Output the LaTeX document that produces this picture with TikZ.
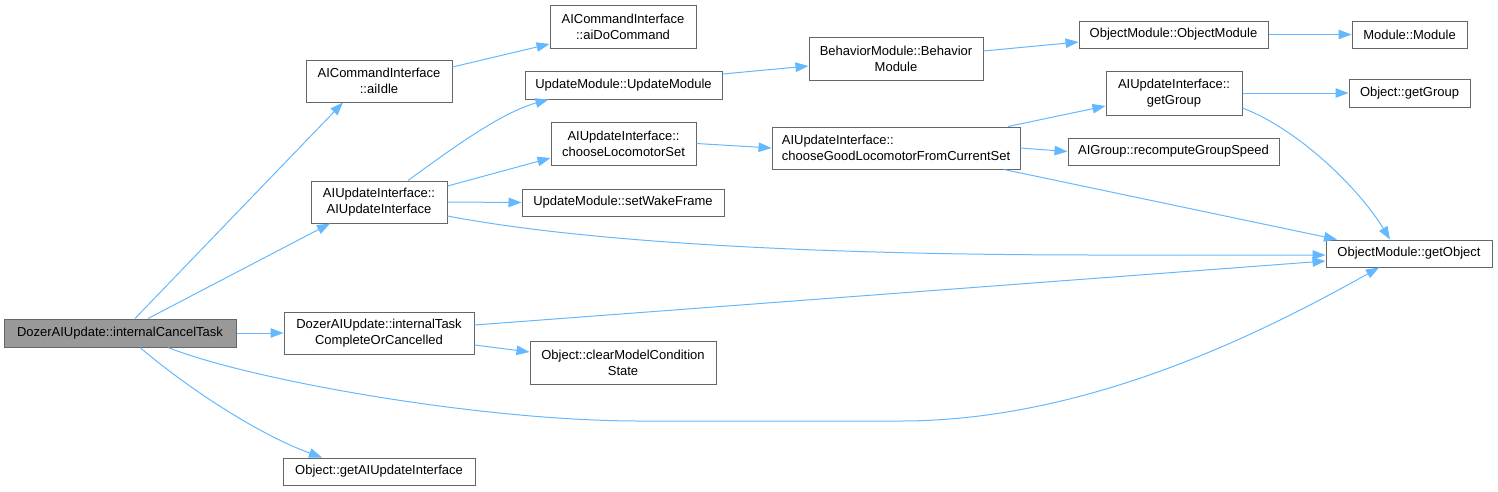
\documentclass[tikz,border=0pt]{standalone}
\usepackage{fontspec}
\setmainfont{Liberation Sans}
\usetikzlibrary{arrows.meta}
\definecolor{edgeblue}{HTML}{63B8FF}
\definecolor{nodeborder}{HTML}{666666}
\definecolor{mainfill}{HTML}{999999}
\tikzset{
  box/.style={draw=nodeborder, line width=1pt, fill=white, inner sep=0pt, align=center,
    font=\fontsize{13}{16}\selectfont},
  mainbox/.style={box, fill=mainfill},
  edge/.style={draw=edgeblue, line width=1pt, -{Triangle[length=13pt,width=9.5pt]}},
}
\begin{document}
\begin{tikzpicture}[x=1pt,y=-1pt]
\useasboundingbox (0,0) rectangle (1498,491);
% nodes
\node[mainbox, minimum width=232, minimum height=28] (main) at (120,333) {DozerAIUpdate::internalCancelTask};
\node[box, minimum width=146, minimum height=42] (aiIdle) at (379,81) {AICommandInterface\\::aiIdle};
\node[box, minimum width=136, minimum height=42] (aiUI) at (379,202) {AIUpdateInterface::\\AIUpdateInterface};
\node[box, minimum width=190, minimum height=42] (intTask) at (379,333) {DozerAIUpdate::internalTask\\CompleteOrCancelled};
\node[box, minimum width=192, minimum height=27] (getAIUI) at (379,471.5) {Object::getAIUpdateInterface};
\node[box, minimum width=146, minimum height=43] (aiDo) at (623,26.5) {AICommandInterface\\::aiDoCommand};
\node[box, minimum width=197, minimum height=28] (updMod) at (623.5,85) {UpdateModule::UpdateModule};
\node[box, minimum width=145, minimum height=43] (chooseLoco) at (623.5,143.5) {AIUpdateInterface::\\chooseLocomotorSet};
\node[box, minimum width=202, minimum height=27] (setWake) at (623,202.5) {UpdateModule::setWakeFrame};
\node[box, minimum width=186, minimum height=43] (clearModel) at (623,362.5) {Object::clearModelCondition\\State};
\node[box, minimum width=174, minimum height=43] (behav) at (896,58.5) {BehaviorModule::Behavior\\Module};
\node[box, minimum width=248, minimum height=42, align=left] (chooseGood) at (896,148) {AIUpdateInterface::\\chooseGoodLocomotorFromCurrentSet};
\node[box, minimum width=189, minimum height=27] (objMod) at (1173.5,34.5) {ObjectModule::ObjectModule};
\node[box, minimum width=136, minimum height=44] (getGroupAI) at (1174,93) {AIUpdateInterface::\\getGroup};
\node[box, minimum width=211, minimum height=27] (aiGroup) at (1173.5,151.5) {AIGroup::recomputeGroupSpeed};
\node[box, minimum width=115, minimum height=27] (module) at (1409.5,34.5) {Module::Module};
\node[box, minimum width=121, minimum height=28] (objGetGroup) at (1409.5,93) {Object::getGroup};
\node[box, minimum width=166, minimum height=27] (getObject) at (1409,253.5) {ObjectModule::getObject};
% edges
\draw[edge] ([xshift=15]main.north) -- ([xshift=-36]aiIdle.south);
\draw[edge] ([xshift=28]main.north) -- ([xshift=-49]aiUI.south);
\draw[edge] (main.east) -- (intTask.west);
\draw[edge] ([xshift=48]main.south) .. controls (250,380) and (480,421) .. (640,421) -- (900,421) .. controls (1080,421) and (1250,340) .. ([xshift=-30]getObject.south);
\draw[edge] ([xshift=20]main.south) .. controls (190,390) and (260,435) .. ([xshift=-57]getAIUI.north);
\draw[edge] ([yshift=14]aiIdle.east) -- ([yshift=-17.5]aiDo.west);
\draw[edge] ([xshift=29]aiUI.north) .. controls (450,150) and (500,113) .. ([xshift=-75]updMod.south);
\draw[edge] ([yshift=16]aiUI.east) -- ([yshift=-14.5]chooseLoco.west);
\draw[edge] (aiUI.east) -- (setWake.west);
\draw[edge] ([yshift=-14]aiUI.east) .. controls (600,245) and (850,255) .. (1100,255) -- ([yshift=-1.5]getObject.west);
\draw[edge] ([yshift=11]updMod.east) -- ([yshift=-7.5]behav.west);
\draw[edge] (chooseLoco.east) -- (chooseGood.west);
\draw[edge] ([yshift=7.5]behav.east) -- ([yshift=-7.5]objMod.west);
\draw[edge] (objMod.east) -- (module.west);
\draw[edge] ([xshift=112]chooseGood.north) -- ([yshift=-13]getGroupAI.west);
\draw[edge] (chooseGood.east) -- (aiGroup.west);
\draw[edge] ([xshift=108]chooseGood.south) -- ([xshift=-72]getObject.north);
\draw[edge] (getGroupAI.east) -- (objGetGroup.west);
\draw[edge] ([yshift=-15]getGroupAI.east) .. controls (1300,130) and (1360,190) .. ([xshift=-19]getObject.north);
\draw[edge] ([yshift=8]intTask.east) -- ([yshift=-7.5]getObject.west);
\draw[edge] ([yshift=-12]intTask.east) -- ([yshift=10.5]clearModel.west);
\end{tikzpicture}
\end{document}
